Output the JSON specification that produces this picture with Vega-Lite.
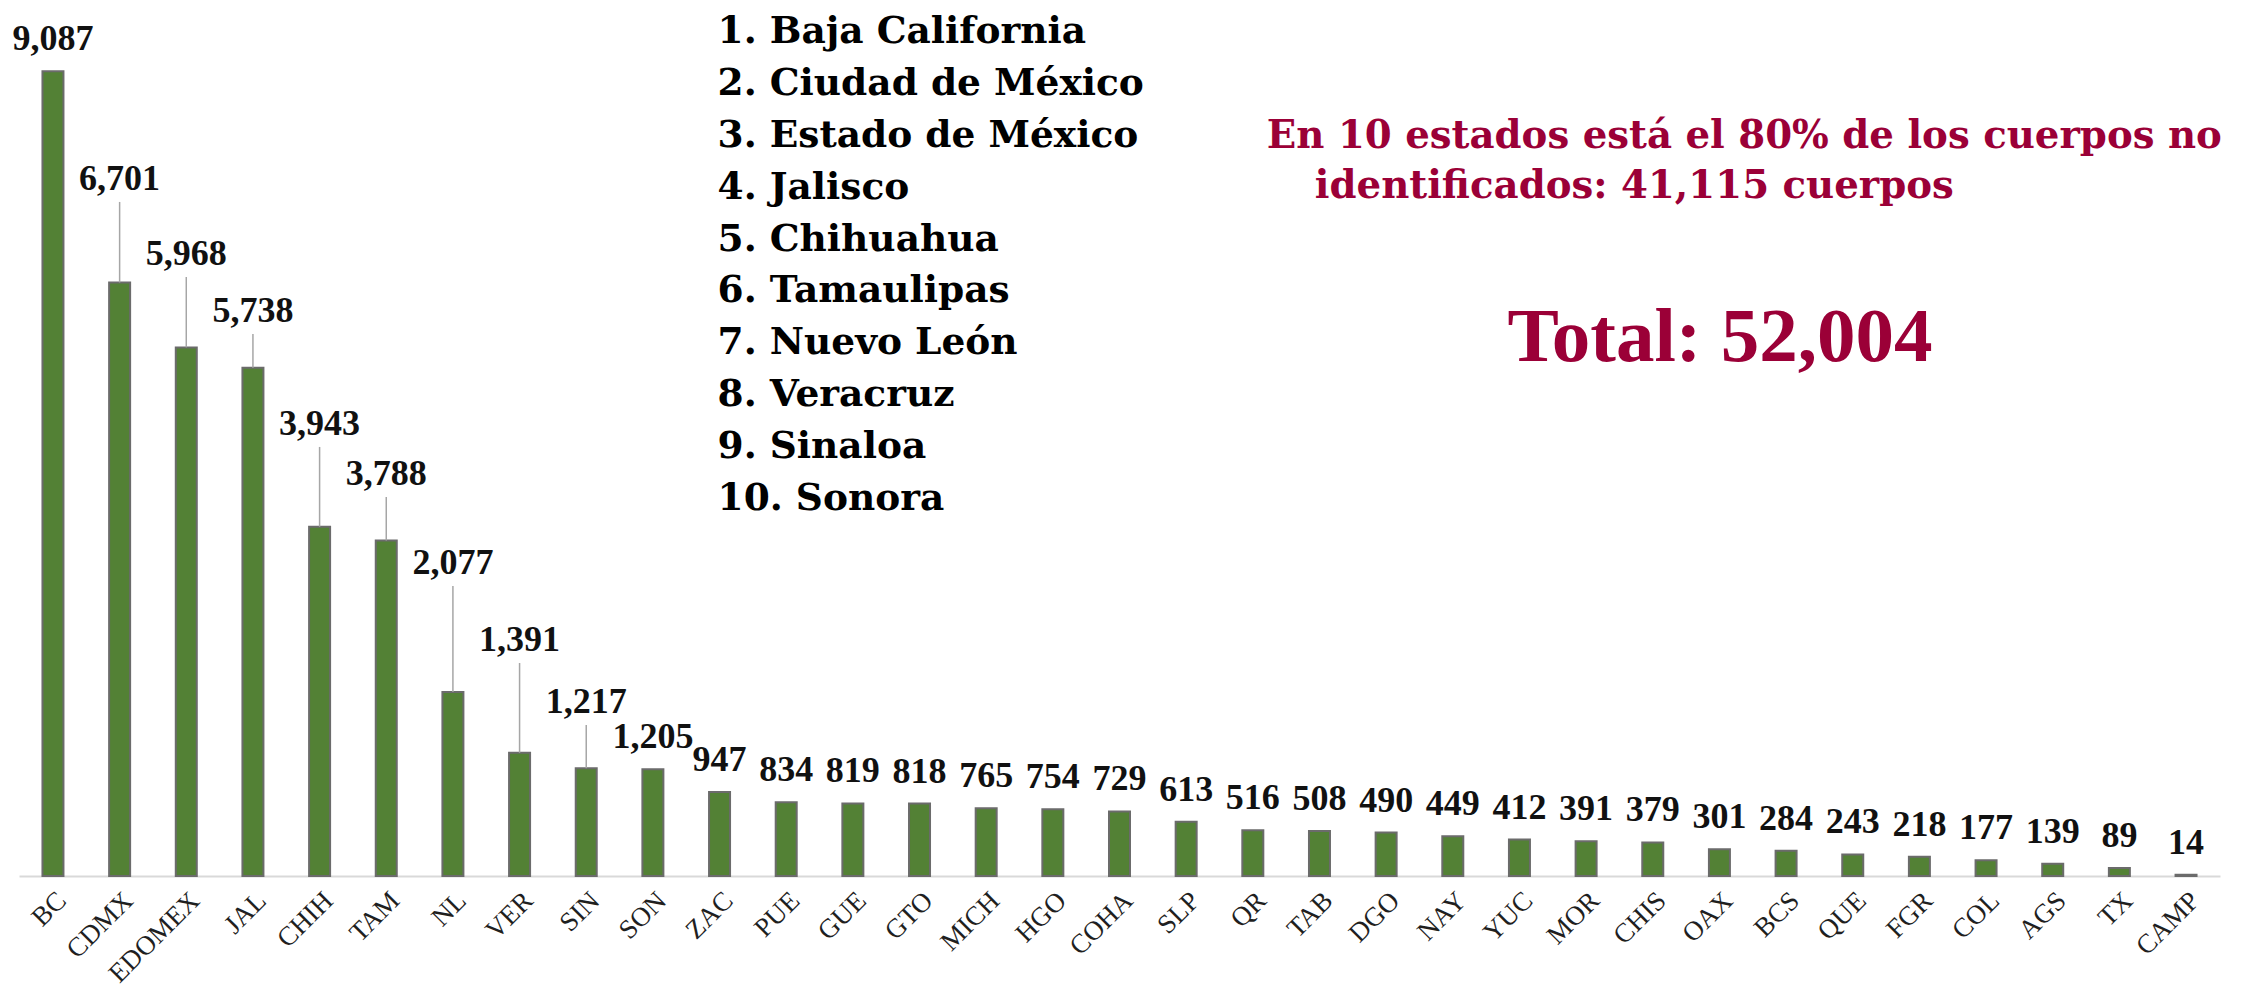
{
  "$schema": "https://vega.github.io/schema/vega-lite/v6.json",
  "autosize": "none",
  "width": 2201,
  "height": 876,
  "padding": {"left": 19, "top": 0, "right": 45, "bottom": 119},
  "background": "#ffffff",
  "config": {"view": {"stroke": null}},
  "data": {
    "values": [
      {"estado": "BC", "cuerpos": 9087, "guia": null},
      {"estado": "CDMX", "cuerpos": 6701, "guia": 7610},
      {"estado": "EDOMEX", "cuerpos": 5968, "guia": 6763},
      {"estado": "JAL", "cuerpos": 5738, "guia": 6120},
      {"estado": "CHIH", "cuerpos": 3943, "guia": 4844},
      {"estado": "TAM", "cuerpos": 3788, "guia": 4279},
      {"estado": "NL", "cuerpos": 2077, "guia": 3274},
      {"estado": "VER", "cuerpos": 1391, "guia": 2405},
      {"estado": "SIN", "cuerpos": 1217, "guia": 1705},
      {"estado": "SON", "cuerpos": 1205, "guia": null},
      {"estado": "ZAC", "cuerpos": 947, "guia": null},
      {"estado": "PUE", "cuerpos": 834, "guia": null},
      {"estado": "GUE", "cuerpos": 819, "guia": null},
      {"estado": "GTO", "cuerpos": 818, "guia": null},
      {"estado": "MICH", "cuerpos": 765, "guia": null},
      {"estado": "HGO", "cuerpos": 754, "guia": null},
      {"estado": "COHA", "cuerpos": 729, "guia": null},
      {"estado": "SLP", "cuerpos": 613, "guia": null},
      {"estado": "QR", "cuerpos": 516, "guia": null},
      {"estado": "TAB", "cuerpos": 508, "guia": null},
      {"estado": "DGO", "cuerpos": 490, "guia": null},
      {"estado": "NAY", "cuerpos": 449, "guia": null},
      {"estado": "YUC", "cuerpos": 412, "guia": null},
      {"estado": "MOR", "cuerpos": 391, "guia": null},
      {"estado": "CHIS", "cuerpos": 379, "guia": null},
      {"estado": "OAX", "cuerpos": 301, "guia": null},
      {"estado": "BCS", "cuerpos": 284, "guia": null},
      {"estado": "QUE", "cuerpos": 243, "guia": null},
      {"estado": "FGR", "cuerpos": 218, "guia": null},
      {"estado": "COL", "cuerpos": 177, "guia": null},
      {"estado": "AGS", "cuerpos": 139, "guia": null},
      {"estado": "TX", "cuerpos": 89, "guia": null},
      {"estado": "CAMP", "cuerpos": 14, "guia": null}
    ]
  },
  "encoding": {
    "x": {
      "field": "estado",
      "type": "nominal",
      "sort": null,
      "scale": {
        "domain": ["BC","CDMX","EDOMEX","JAL","CHIH","TAM","NL","VER","SIN","SON","ZAC","PUE","GUE","GTO","MICH","HGO","COHA","SLP","QR","TAB","DGO","NAY","YUC","MOR","CHIS","OAX","BCS","QUE","FGR","COL","AGS","TX","CAMP"],
        "paddingInner": 0.685,
        "paddingOuter": 0.352
      },
      "axis": {
        "title": null,
        "labelAngle": -45,
        "labelFont": "Liberation Serif",
        "labelFontSize": 27,
        "labelColor": "#1f1f1f",
        "labelPadding": 11,
        "ticks": false,
        "domainColor": "#d9d9d9",
        "domainWidth": 2,
        "grid": false
      }
    }
  },
  "layer": [
    {
      "mark": {"type": "bar", "fill": "#538135", "stroke": "#6b6b6b", "strokeWidth": 2},
      "encoding": {
        "y": {"field": "cuerpos", "type": "quantitative", "scale": {"domain": [0, 9890], "nice": false, "zero": true}, "axis": null}
      }
    },
    {
      "transform": [{"filter": "datum.guia != null"}],
      "mark": {"type": "rule", "color": "#a6a6a6", "strokeWidth": 1.5},
      "encoding": {
        "y": {"field": "cuerpos", "type": "quantitative"},
        "y2": {"field": "guia"}
      }
    },
    {
      "transform": [{"filter": "datum.guia == null"}],
      "mark": {"type": "text", "font": "Liberation Serif", "fontWeight": "bold", "fontSize": 36, "color": "#111111", "baseline": "alphabetic", "dy": -21},
      "encoding": {
        "y": {"field": "cuerpos", "type": "quantitative"},
        "text": {"field": "cuerpos", "type": "quantitative", "format": ",d"}
      }
    },
    {
      "transform": [{"filter": "datum.guia != null"}],
      "mark": {"type": "text", "font": "Liberation Serif", "fontWeight": "bold", "fontSize": 36, "color": "#111111", "baseline": "alphabetic", "dy": -12},
      "encoding": {
        "y": {"field": "guia", "type": "quantitative"},
        "text": {"field": "cuerpos", "type": "quantitative", "format": ",d"}
      }
    },
    {
      "data": {"values": [{"nota": "lista"}]},
      "mark": {
        "type": "text",
        "text": ["1. Baja California", "2. Ciudad de México", "3. Estado de México", "4. Jalisco", "5. Chihuahua", "6. Tamaulipas", "7. Nuevo León", "8. Veracruz", "9. Sinaloa", "10. Sonora"],
        "font": "DejaVu Serif", "fontWeight": "bold", "fontSize": 37.5, "lineHeight": 51.9,
        "align": "left", "baseline": "alphabetic", "color": "#000000", "dx": -2
      },
      "encoding": {
        "x": {"datum": "ZAC", "type": "nominal"},
        "y": {"datum": 9405, "type": "quantitative"}
      }
    },
    {
      "data": {"values": [{"nota": "linea1"}]},
      "mark": {
        "type": "text",
        "text": "En 10 estados está el 80% de los cuerpos no",
        "font": "DejaVu Serif", "fontWeight": "bold", "fontSize": 38.7,
        "align": "left", "baseline": "alphabetic", "color": "#9b0037", "dx": 14
      },
      "encoding": {
        "x": {"datum": "QR", "type": "nominal"},
        "y": {"datum": 8220, "type": "quantitative"}
      }
    },
    {
      "data": {"values": [{"nota": "linea2"}]},
      "mark": {
        "type": "text",
        "text": "identificados: 41,115 cuerpos",
        "font": "DejaVu Serif", "fontWeight": "bold", "fontSize": 38.7,
        "align": "left", "baseline": "alphabetic", "color": "#9b0037", "dx": 62
      },
      "encoding": {
        "x": {"datum": "QR", "type": "nominal"},
        "y": {"datum": 7655, "type": "quantitative"}
      }
    },
    {
      "data": {"values": [{"nota": "total"}]},
      "mark": {
        "type": "text",
        "text": "Total: 52,004",
        "font": "Liberation Serif", "fontWeight": "bold", "fontSize": 77,
        "align": "left", "baseline": "alphabetic", "color": "#9b0037", "dx": -12
      },
      "encoding": {
        "x": {"datum": "YUC", "type": "nominal"},
        "y": {"datum": 5815, "type": "quantitative"}
      }
    }
  ]
}
